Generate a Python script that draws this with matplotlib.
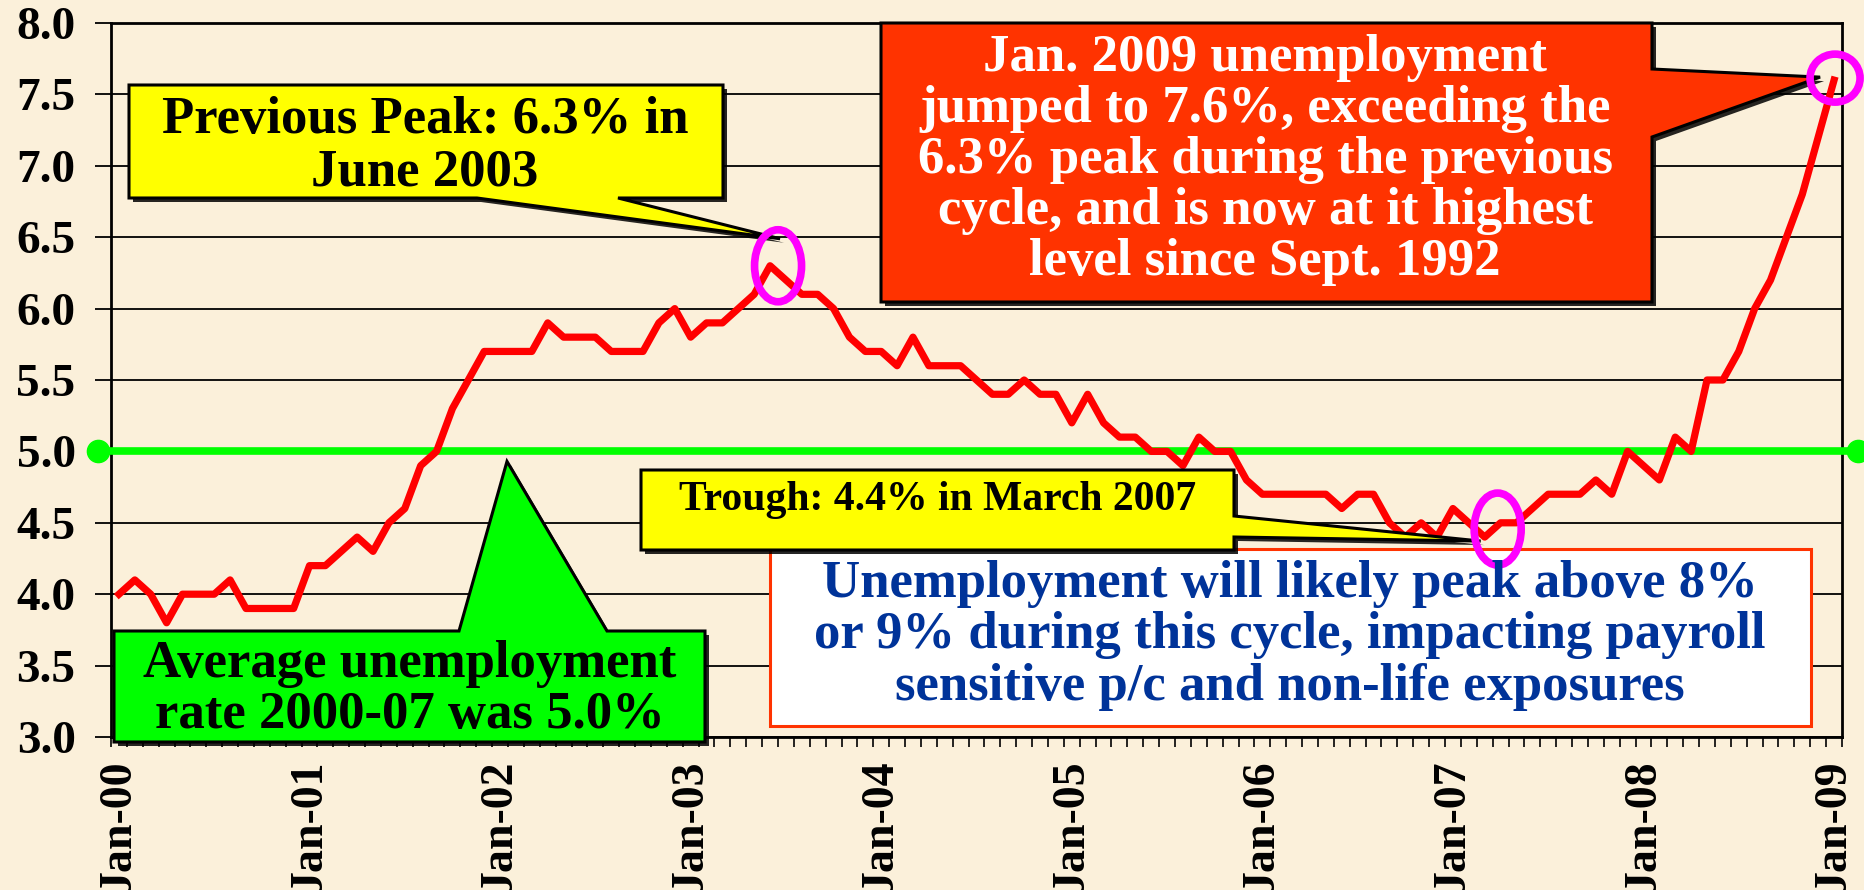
import matplotlib
matplotlib.use("Agg")
import matplotlib.pyplot as plt
from matplotlib.patches import Polygon, Ellipse, Rectangle
import numpy as np

# ─────────────────────────────────────────────
# DATA: monthly unemployment rate (%), Jan 2000 - Jan 2009
# ─────────────────────────────────────────────
RATE_2000 = [4.0, 4.1, 4.0, 3.8, 4.0, 4.0, 4.0, 4.1, 3.9, 3.9, 3.9, 3.9]
RATE_2001 = [4.2, 4.2, 4.3, 4.4, 4.3, 4.5, 4.6, 4.9, 5.0, 5.3, 5.5, 5.7]
RATE_2002 = [5.7, 5.7, 5.7, 5.9, 5.8, 5.8, 5.8, 5.7, 5.7, 5.7, 5.9, 6.0]
RATE_2003 = [5.8, 5.9, 5.9, 6.0, 6.1, 6.3, 6.2, 6.1, 6.1, 6.0, 5.8, 5.7]
RATE_2004 = [5.7, 5.6, 5.8, 5.6, 5.6, 5.6, 5.5, 5.4, 5.4, 5.5, 5.4, 5.4]
RATE_2005 = [5.2, 5.4, 5.2, 5.1, 5.1, 5.0, 5.0, 4.9, 5.1, 5.0, 5.0, 4.8]
RATE_2006 = [4.7, 4.7, 4.7, 4.7, 4.7, 4.6, 4.7, 4.7, 4.5, 4.4, 4.5, 4.4]
RATE_2007 = [4.6, 4.5, 4.4, 4.5, 4.5, 4.6, 4.7, 4.7, 4.7, 4.8, 4.7, 5.0]
RATE_2008 = [4.9, 4.8, 5.1, 5.0, 5.5, 5.5, 5.7, 6.0, 6.2, 6.5, 6.8, 7.2]
RATE_2009 = [7.6]

RATES = (RATE_2000 + RATE_2001 + RATE_2002 + RATE_2003 + RATE_2004
         + RATE_2005 + RATE_2006 + RATE_2007 + RATE_2008 + RATE_2009)

YEAR_LABELS = ["Jan-00", "Jan-01", "Jan-02", "Jan-03", "Jan-04",
               "Jan-05", "Jan-06", "Jan-07", "Jan-08", "Jan-09"]
Y_TICKS = [3.0, 3.5, 4.0, 4.5, 5.0, 5.5, 6.0, 6.5, 7.0, 7.5, 8.0]
AVERAGE_RATE = 5.0

PEAK_IDX = 41      # June 2003
TROUGH_IDX = 86    # March 2007
LAST_IDX = len(RATES) - 1

# ─────────────────────────────────────────────
# STYLE
# ─────────────────────────────────────────────
W, H = 1864, 890
BG = "#FBF0DA"
SERIF = ["Liberation Serif", "DejaVu Serif"]
plt.rcParams["font.family"] = SERIF
plt.rcParams["font.weight"] = "bold"

fig = plt.figure(figsize=(W / 100, H / 100), dpi=100)
fig.patch.set_facecolor(BG)

ax = fig.add_axes([111 / W, (H - 737) / H, (1842 - 111) / W, (737 - 23) / H])
ax.set_facecolor("none")

x = np.arange(len(RATES))

# average line with end dots (runs past the axes)
ax.plot([-1.35, len(RATES) + 0.5], [AVERAGE_RATE, AVERAGE_RATE],
        color="#00FF00", lw=5.5, marker="o", ms=16, clip_on=False, zorder=3)

ax.plot(x, RATES, color="#FF0000", lw=5.2, zorder=4)

ax.set_xlim(-0.5, len(RATES) - 0.5)
ax.set_ylim(3, 8)

ax.set_yticks(Y_TICKS)
ax.set_yticklabels([f"{v:.1f}" for v in Y_TICKS], fontsize=34, fontweight="bold")
ax.yaxis.grid(True, color="black", lw=1.3)
ax.set_axisbelow(True)
ax.tick_params(axis="y", length=11.5, width=1.3, pad=14, direction="out")

ax.set_xticks(np.arange(0, len(RATES), 12))
ax.set_xticklabels(YEAR_LABELS, rotation=90, fontsize=33, fontweight="bold")
ax.set_xticks(np.arange(-0.5, len(RATES)), minor=True)
ax.tick_params(axis="x", which="major", length=0, pad=16)
ax.tick_params(axis="x", which="minor", length=7, width=1.2, direction="out")

for s in ax.spines.values():
    s.set_linewidth(2)
    s.set_color("black")

# ─────────────────────────────────────────────
# CALLOUTS (overlay in pixel coordinates, top-left origin)
# ─────────────────────────────────────────────
ov = fig.add_axes([0, 0, 1, 1], zorder=5)
ov.set_xlim(0, W)
ov.set_ylim(H, 0)
ov.axis("off")
ov.patch.set_alpha(0)


def to_px(xv, yv):
    d = ax.transData.transform((xv, yv))
    return d[0], H - d[1]


def callout(verts, face, shadow=True):
    if shadow:
        ov.add_patch(Polygon([(vx + 4, vy + 4) for vx, vy in verts], closed=True,
                             fc="black", ec="none", alpha=0.85))
    ov.add_patch(Polygon(verts, closed=True, fc=face, ec="black", lw=2.2,
                         joinstyle="miter"))


def lines(cx, baselines, texts, size, color):
    for by, t in zip(baselines, texts):
        ov.text(cx, by, t, ha="center", va="baseline", fontsize=size,
                fontweight="bold", color=color)


# previous peak
px, py = to_px(PEAK_IDX, RATES[PEAK_IDX])
tip = (px + 10, py - 27)
callout([(129, 85), (723, 85), (723, 198), (618, 198), tip, (477, 198), (129, 198)],
        "#FFFF00")
lines(425, [133, 185], ["Previous Peak: 6.3% in", "June 2003"], 38, "black")

# Jan 2009
px, py = to_px(LAST_IDX, RATES[LAST_IDX])
tip = (px - 14, py - 3)
callout([(881, 23), (1652, 23), (1652, 69), tip, (1652, 137), (1652, 302), (881, 302)],
        "#FF3300")
lines(1265, [71, 122, 173, 224, 275],
      ["Jan. 2009 unemployment", "jumped to 7.6%, exceeding the",
       "6.3% peak during the previous", "cycle, and is now at it highest",
       "level since Sept. 1992"], 38, "white")

# outlook box
ov.add_patch(Rectangle((770, 549), 1811 - 770, 726 - 549, fc="white",
                       ec="#FF3300", lw=2.2))
lines(1290, [597, 648, 700],
      ["Unemployment will likely peak above 8%",
       "or 9% during this cycle, impacting payroll",
       "sensitive p/c and non-life exposures"], 38, "#003399")

# trough
px, py = to_px(TROUGH_IDX, RATES[TROUGH_IDX])
tip = (px - 4, py + 4)
callout([(641, 470), (1234, 470), (1234, 516), tip, (1234, 537), (1234, 550), (641, 550)],
        "#FFFF00")
lines(938, [510], ["Trough: 4.4% in March 2007"], 30, "black")

# average
_, ay = to_px(0, AVERAGE_RATE)
tip = (507, ay + 10)
callout([(114, 631), (459, 631), tip, (607, 631), (705, 631), (705, 742), (114, 742)],
        "#00FF00")
lines(410, [677, 728], ["Average unemployment", "rate 2000-07 was 5.0%"], 38, "black")

# highlight rings
for idx, (dx, dy), (ew, eh) in [(PEAK_IDX, (8, 0), (47, 72)),
                                (TROUGH_IDX, (13, -8), (47, 72)),
                                (LAST_IDX, (1, -2), (50, 48))]:
    cx, cy = to_px(idx, RATES[idx])
    ov.add_patch(Ellipse((cx + dx, cy + dy), ew, eh, fc="none",
                         ec="#FF00FF", lw=5.5))

fig.savefig("out.png", dpi=100, facecolor=fig.get_facecolor())
plt.close(fig)
